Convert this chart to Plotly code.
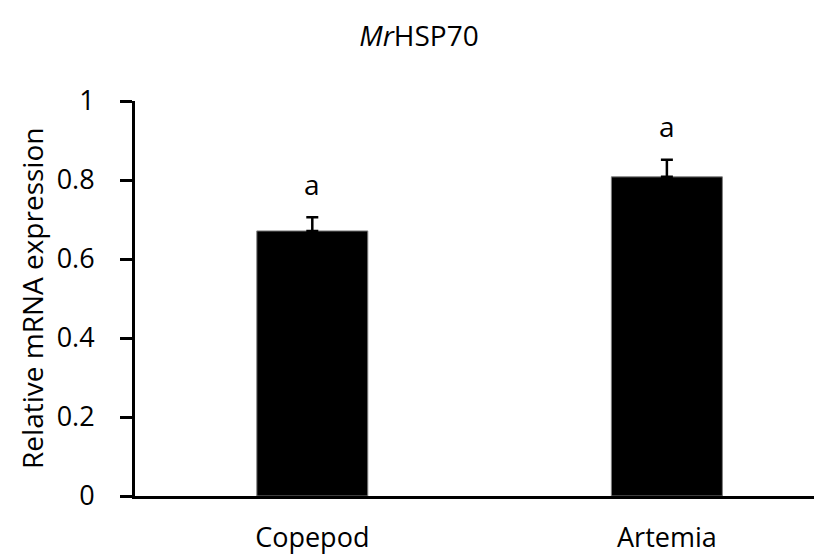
import plotly.graph_objects as go

categories = ["Copepod", "Artemia"]
values = [0.671, 0.808]
errors = [0.035, 0.043]
letters = ["a", "a"]
y_ticks = [0, 0.2, 0.4, 0.6, 0.8, 1]
y_tick_labels = ["0", "0.2", "0.4", "0.6", "0.8", "1"]

FONT = "Open Sans"
FS = 28

fig = go.Figure()
fig.add_trace(go.Bar(
    x=[0, 1], y=values, width=0.313,
    marker=dict(color="black", line=dict(color="#7f7f7f", width=1)),
    error_y=dict(type="data", symmetric=False, array=errors,
                 arrayminus=[0] * len(errors), color="black",
                 thickness=2.5, width=6),
    showlegend=False,
))

annotations = []
for i, (v, e, t) in enumerate(zip(values, errors, letters)):
    annotations.append(dict(x=i, y=v + e + 0.085, xref="x", yref="y", text=t,
                            showarrow=False, yanchor="middle",
                            font=dict(family=FONT, size=FS, color="black")))
annotations.append(dict(x=-0.149, y=0.5, xref="paper", yref="paper",
                        text="Relative mRNA expression", textangle=-90,
                        showarrow=False, xanchor="center", yanchor="middle",
                        font=dict(family=FONT, size=FS, color="black")))

fig.update_layout(
    width=822, height=555,
    margin=dict(l=127, r=0, t=93, b=67, pad=0),
    paper_bgcolor="white", plot_bgcolor="white",
    font=dict(family=FONT, size=FS, color="black"),
    title=dict(text="<i>Mr</i>HSP70", xref="container", x=0.5, xanchor="center",
               yref="container", y=1 - 28 / 555, yanchor="middle",
               font=dict(family=FONT, size=FS, color="black")),
    xaxis=dict(range=[-0.5, 1.46], tickmode="array", tickvals=[0, 1],
               ticktext=categories, ticks="", showline=True, linecolor="black",
               linewidth=3, showgrid=False, zeroline=False,
               ticklabelstandoff=16, fixedrange=True,
               tickfont=dict(family=FONT, size=27, color="black")),
    yaxis=dict(range=[0, 1], tickmode="array", tickvals=y_ticks,
               ticktext=y_tick_labels, ticks="outside", ticklen=12,
               tickwidth=3, tickcolor="black", showline=True,
               linecolor="black", linewidth=3, showgrid=False,
               zeroline=False, ticklabelstandoff=20,
               tickfont=dict(family=FONT, size=27, color="black")),
    annotations=annotations,
)

fig.write_html("out.html")
